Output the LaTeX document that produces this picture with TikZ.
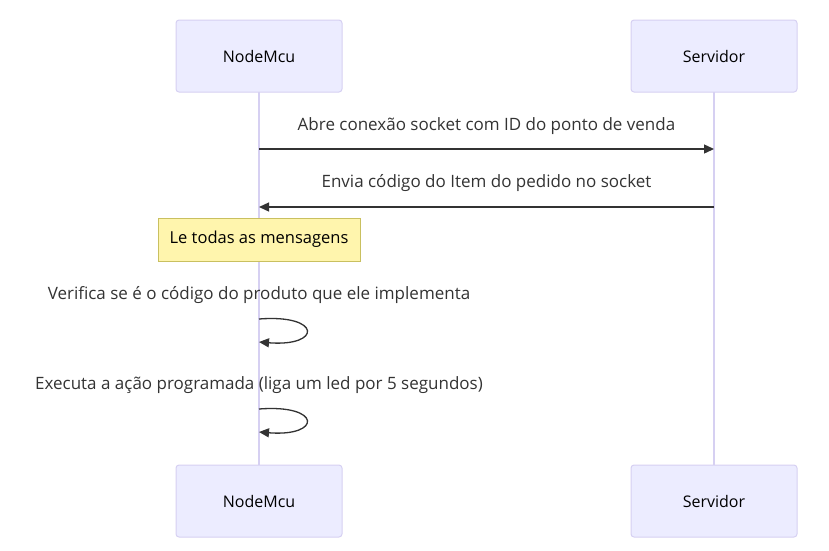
\documentclass[tikz,border=0pt]{standalone}
\usepackage{fontspec}
\setmainfont{Open Sans}
\usetikzlibrary{arrows.meta}
\definecolor{actfill}{HTML}{ECECFF}
\definecolor{actline}{HTML}{D6D0F2}
\definecolor{txt}{HTML}{333333}
\definecolor{notefill}{HTML}{FFF5AD}
\definecolor{noteline}{HTML}{C9C060}
\tikzset{
  actor/.style={draw=actline, fill=actfill, line width=1pt, rounded corners=3pt, minimum width=166pt, minimum height=72pt, inner sep=0pt, font=\fontsize{16}{18}\selectfont, text=black},
  life/.style={draw=actline, line width=1.5pt},
  msg/.style={draw=txt, line width=1.3pt, -{Triangle[length=10pt,width=9pt]}},
  msgtext/.style={font=\fontsize{17}{19}\selectfont, text=txt, inner sep=0pt},
  notebox/.style={draw=noteline, fill=notefill, line width=1pt, minimum width=202pt, minimum height=43pt, inner sep=0pt, font=\fontsize{16.5}{18}\selectfont, text=black}
}
\begin{document}
\begin{tikzpicture}[x=1pt,y=-1pt]
\useasboundingbox (0,0) rectangle (829,550);
\coordinate (nt) at (259,92);
\coordinate (nb) at (259,465);
\coordinate (st) at (714,92);
\coordinate (sb) at (714,465);
\draw[life] (nt) -- (nb);
\draw[life] (st) -- (sb);
\node[actor] (n1) at (259,56) {NodeMcu};
\node[actor] (s1) at (714,56) {Servidor};
\node[actor] (n2) at (259,501) {NodeMcu};
\node[actor] (s2) at (714,501) {Servidor};
\coordinate (a1) at (259,149);
\coordinate (b1) at (714,149);
\coordinate (a2) at (259,207);
\coordinate (b2) at (714,207);
\node[msgtext] (t1) at (486.5,126) {Abre conexão socket com ID do ponto de venda};
\draw[msg] (a1) -- (b1);
\node[msgtext] (t2) at (486.5,183) {Envia código do Item do pedido no socket};
\draw[msg] (b2) -- (a2);
\node[notebox] (note) at (259,239.5) {Le todas as mensagens};
\node[msgtext] (t3) at (259,295) {Verifica se é o código do produto que ele implementa};
\coordinate (l1a) at (259,319);
\coordinate (l1b) at (259,342);
\draw[msg] (l1a) .. controls (322,314) and (322,347) .. (l1b);
\node[msgtext] (t4) at (259,385) {Executa a ação programada (liga um led por 5 segundos)};
\coordinate (l2a) at (259,409);
\coordinate (l2b) at (259,432);
\draw[msg] (l2a) .. controls (322,404) and (322,437) .. (l2b);
\end{tikzpicture}
\end{document}
